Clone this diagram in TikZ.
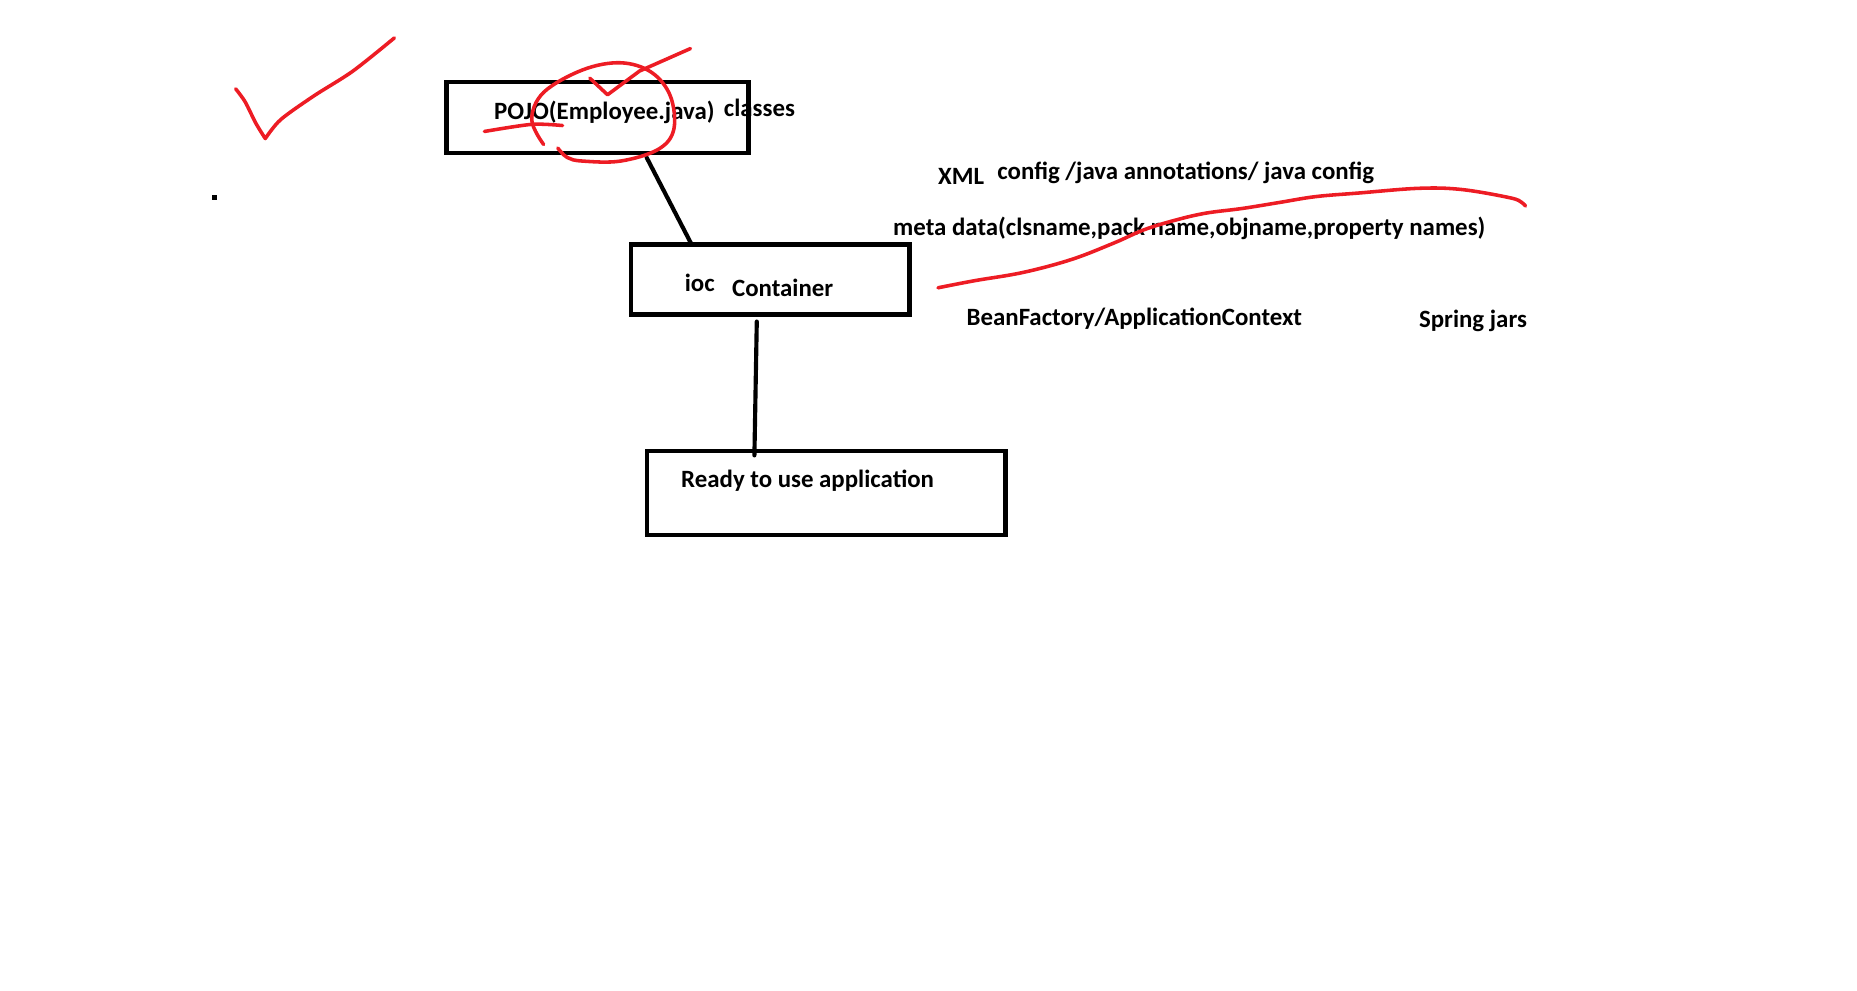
\documentclass[tikz,border=0pt]{standalone}
\usepackage{fontspec}
\setmainfont{Carlito}
\usepackage{tikz}
\definecolor{Pen}{HTML}{ED1C24}
\tikzset{
 panel/.style={draw=black,line width=3.5pt,rectangle,inner sep=0pt,outer sep=0pt},
 tag/.style={anchor=base west,inner sep=0pt,font=\fontsize{21}{25}\selectfont\bfseries},
 wire/.style={line width=3.5pt,line cap=round},
 pen/.style={draw=Pen,line width=3pt,line cap=round,line join=round}
}

\begin{document}
\begin{tikzpicture}[x=1pt,y=-1pt]
\useasboundingbox (0,0) rectangle (1568,836);
% boxes
\node[panel,minimum width=255pt,minimum height=60pt] (pojo) at (504.5,99) {};
\node[panel,minimum width=235pt,minimum height=59pt] (ioc) at (650.5,236) {};
\node[panel,minimum width=303pt,minimum height=71pt] (app) at (697.5,416) {};
% texts
\node[tag] (pojotxt) at (417,100.5) {POJO(Employee.java)};
\node[tag] (cls) at (611,98.5) {classes};
\node[tag] (ioctxt) at (578,246) {ioc};
\node[tag] (cont) at (618,250.5) {Container};
\node[tag] (apptxt) at (575,411.5) {Ready to use application};
\node[tag] (xml) at (792,156) {XML};
\node[tag] (cfg) at (842,151.5) {config /java annotations/ java config};
\node[tag] (meta) at (754,198.5) {meta data(clsname,pack name,objname,property names)};
\node[tag] (bf) at (816,274.5) {BeanFactory/ApplicationContext};
\node[tag] (jars) at (1198,276.5) {Spring jars};
% connectors
\draw[wire] ([xshift=41.5pt,yshift=-4pt]pojo.south) -- ([xshift=-66.5pt]ioc.north);
\draw[wire] ([xshift=-11.5pt,yshift=-6pt]ioc.south) -- ([xshift=-60.5pt,yshift=-4pt]app.north);
% stray dot
\fill (179,165) rectangle (183,169);
% red marks
\draw[pen] plot[smooth,tension=0.5] coordinates {(199,75) (207,86) (216,104) (224,117)}
  -- plot[smooth,tension=0.5] coordinates {(224,117) (237,101) (265,81) (298,60) (333,32)};
\draw[pen] (498,66) -- (513,80) -- (540,60) -- (583,41);
\draw[pen] plot[smooth,tension=0.6] coordinates {(459,122) (449,101) (459,78) (492,59) (524,53) (550,61) (566,81) (569,109) (556,126) (524,136) (492,136) (479,133) (471,125)};
\draw[pen] plot[smooth] coordinates {(409,111) (449,105) (475,106)};
\draw[pen] plot[smooth,tension=0.6] coordinates {(792,243) (823,237) (864,230) (905,219) (941,205) (966,194) (992,186) (1018,180) (1049,176) (1080,171) (1111,166) (1147,163) (1198,159) (1234,160) (1275,167) (1285,171) (1288,174)};
\end{tikzpicture}
\end{document}
